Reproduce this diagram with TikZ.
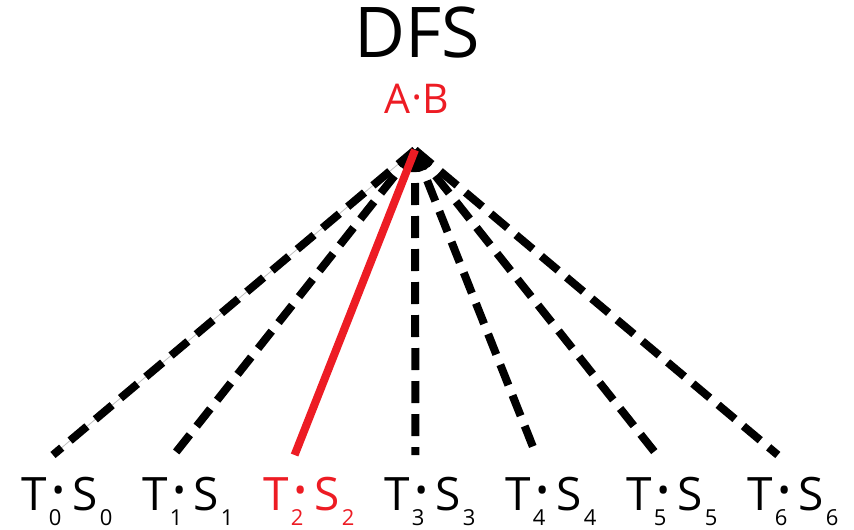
\documentclass[tikz,border=0pt]{standalone}
\usepackage{fontspec}
\setmainfont{Open Sans}
\usetikzlibrary{positioning}

\definecolor{pickred}{HTML}{ED1C24}

% one leaf label: T_i . S_i
\newcommand{\leaflabel}[1]{%
T\kern2pt\rlap{\raisebox{-15pt}{\fontsize{22}{22}\selectfont #1}}\kern3pt%
\raisebox{8pt}{\fontsize{34}{34}\selectfont\textbullet}\kern8pt%
S\kern2pt\raisebox{-15pt}{\fontsize{22}{22}\selectfont #1}}

\tikzset{
  branch/.style={line width=8pt, dash pattern=on 22pt off 11pt},
  chosen/.style={line width=8pt, pickred},
  leaf/.style={anchor=base, inner sep=0pt, font=\fontsize{46}{46}\selectfont}
}

\begin{document}
\begin{tikzpicture}[x=1pt,y=-1pt]
\useasboundingbox (0,0) rectangle (854,530);

\node[anchor=base, inner sep=0pt, font=\fontsize{70}{70}\selectfont] (title) at (417,57) {DFS};
\node[anchor=base, inner sep=0pt, text=pickred, font=\fontsize{41}{41}\selectfont] (root) at (417,113)
{A\kern2pt\raisebox{8pt}{\fontsize{22}{22}\selectfont\textbullet}\kern2pt B};
\coordinate (apex) at (415,150);

% leaves along the bottom
\foreach \i in {0,...,6}{
  \ifnum\i=2 \def\leafcol{pickred}\else\def\leafcol{black}\fi
  \node[leaf, text=\leafcol] (t\i) at (67+121*\i,510) {\leaflabel{\i}};
  \coordinate (e\i) at (53+120.8*\i,455);
}

\draw[gray!50, line width=0.8pt] (apex) -- (e0);
\foreach \i in {0,1,3,4,5,6}
  \draw[branch] (apex) -- (e\i);
\draw[chosen] (apex) -- (e2);

\end{tikzpicture}
\end{document}
